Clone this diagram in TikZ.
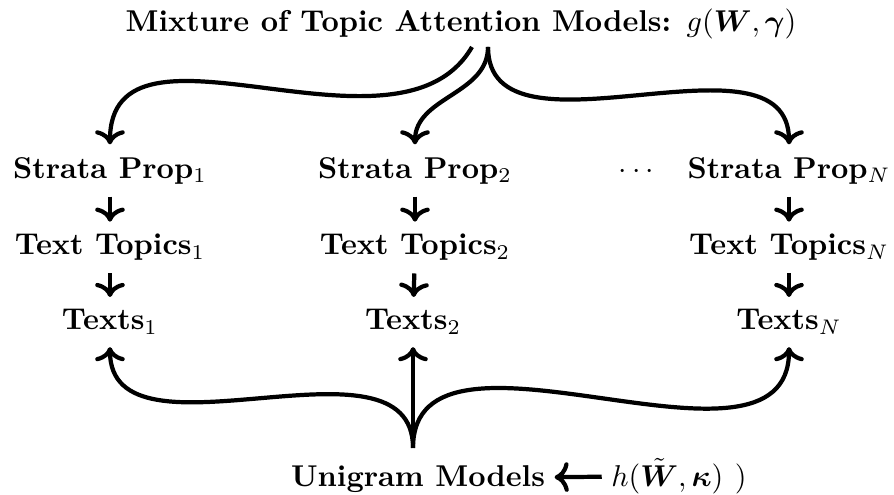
\documentclass[tikz,border=0pt]{standalone}
\usepackage{amsmath,bm}
\usetikzlibrary{arrows.meta,positioning}
\begin{document}
\begin{tikzpicture}[
  font=\bfseries,
  lbl/.style={inner sep=4pt, anchor=base},
  arr/.style={-{To}, line width=1.4pt}
]
\useasboundingbox (0,0) rectangle (10.431,5.764);
\node[lbl] (mix) at (5.379,5.402) {Mixture of Topic Attention Models: $g(\bm{W},\bm{\gamma})$};
\coordinate (mixl) at (5.507,5.216);
\coordinate (mixr) at (5.694,5.216);
% columns
\node[lbl] (sp1) at (1.283,3.687) {Strata Prop$_1$};
\node[lbl] (sp2) at (4.842,3.687) {Strata Prop$_2$};
\node[lbl] (dots) at (7.456,3.687) {$\cdots$};
\node[lbl] (spN) at (9.206,3.687) {Strata Prop$_N$};
\node[lbl] (tt1) at (1.283,2.789) {Text Topics$_1$};
\node[lbl] (tt2) at (4.842,2.789) {Text Topics$_2$};
\node[lbl] (ttN) at (9.206,2.789) {Text Topics$_N$};
\node[lbl] (tx1) at (1.283,1.914) {Texts$_1$};
\node[lbl] (tx2) at (4.819,1.914) {Texts$_2$};
\node[lbl] (txN) at (9.206,1.914) {Texts$_N$};
% bottom
\node[lbl, inner sep=3pt] (uni) at (4.877,0.093) {Unigram Models};
\node[inner sep=3pt, base right=0.55cm of uni] (hw) {$h(\tilde{\bm{W}},\bm{\kappa})\ )$};
\coordinate (join) at (4.819,0.537);
\draw[arr] (mixl) to[out=-120,in=90] (sp1.north);
\draw[arr] (mixr) to[out=-90,in=90] (sp2.north);
\draw[arr] (mixr) to[out=-90,in=90] (spN.north);
\draw[arr] (sp1) -- (tt1); \draw[arr] (tt1) -- (tx1);
\draw[arr] (sp2) -- (tt2); \draw[arr] (tt2) -- (tx2);
\draw[arr] (spN) -- (ttN); \draw[arr] (ttN) -- (txN);
\draw[arr] (join) to[out=90,in=-90] (tx1.south);
\draw[arr] (join) -- (tx2.south);
\draw[arr] (join) to[out=90,in=-90] (txN.south);
\draw[arr] (hw) -- (uni);
\end{tikzpicture}
\end{document}
